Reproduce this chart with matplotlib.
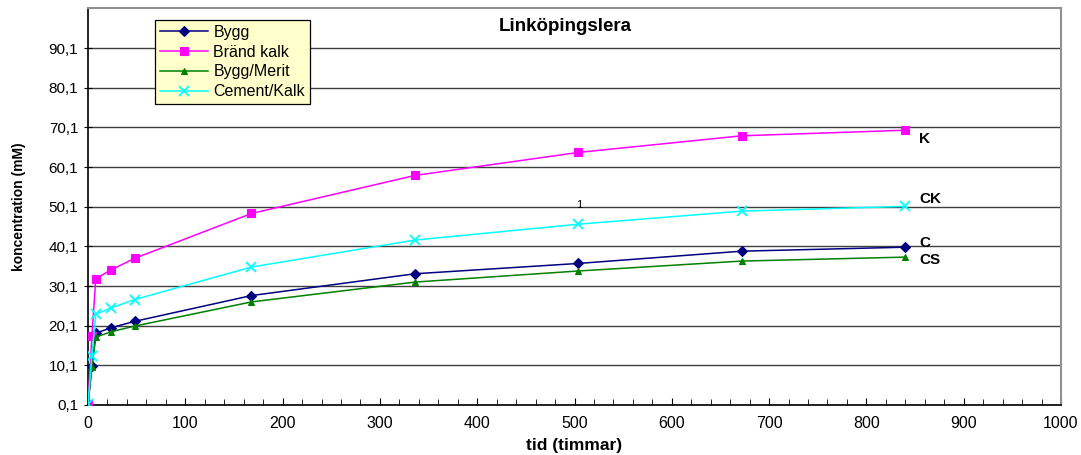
import numpy as np
import matplotlib.pyplot as plt
from matplotlib.ticker import MultipleLocator, FuncFormatter

plt.rcParams['font.family'] = ['Liberation Sans', 'DejaVu Sans']

# sampling times (hours)
tid = [0, 4, 8, 24, 48, 168, 336, 504, 672, 840]

bygg = [0.4, 10.0, 18.2, 19.6, 21.2, 27.7, 33.2, 35.8, 38.9, 39.9]
brand_kalk = [0.4, 17.4, 32.0, 34.2, 37.1, 48.4, 58.0, 63.8, 68.0, 69.4]
bygg_merit = [0.3, 9.6, 17.2, 18.6, 20.0, 26.1, 31.1, 33.9, 36.4, 37.4]
cement_kalk = [0.4, 12.5, 23.0, 24.6, 26.7, 34.9, 41.7, 45.7, 49.0, 50.2]

series = [
    ("Bygg", bygg, '#000080', 'D', 5),
    ("Bränd kalk", brand_kalk, '#FF00FF', 's', 6.3),
    ("Bygg/Merit", bygg_merit, '#008000', '^', 5),
    ("Cement/Kalk", cement_kalk, '#00FFFF', 'x', 7),
]

# short names written at the end of each curve
end_labels = [("K", 67.2), ("CK", 52.1), ("C", 40.9), ("CS", 36.6)]

fig = plt.figure(figsize=(10.81, 4.55), dpi=100)
ax = fig.add_axes([88 / 1081, 1 - 405 / 455, (1061 - 88) / 1081, (405 - 8.5) / 455])

for name, vals, col, mk, ms in series:
    ax.plot(tid, vals, color=col, marker=mk, markersize=ms, linewidth=1.1,
            markeredgewidth=1.3 if mk == 'x' else 0.8, label=name, zorder=3)

ax.set_xlim(0, 1000)
ax.set_ylim(0.1, 100.1)
ax.xaxis.set_major_locator(MultipleLocator(100))
ax.xaxis.set_minor_locator(MultipleLocator(20))
ax.set_yticks(np.arange(0.1, 91, 10))
ax.yaxis.set_major_formatter(FuncFormatter(lambda v, p: f"{v:.1f}".replace('.', ',')))
ax.yaxis.grid(True, color='#404040', linewidth=1.0, zorder=1)

ax.tick_params(axis='x', which='both', direction='in', labelsize=11.5, pad=8)
ax.tick_params(axis='x', which='major', length=5)
ax.tick_params(axis='x', which='minor', length=4)
ax.tick_params(axis='y', direction='inout', length=6, labelsize=11, pad=4)

for side in ['left', 'bottom']:
    ax.spines[side].set_color('black')
    ax.spines[side].set_linewidth(1.2)
for side in ['top', 'right']:
    ax.spines[side].set_color('#909090')
    ax.spines[side].set_linewidth(1.5)

ax.set_xlabel("tid (timmar)", fontsize=12.5, fontweight='bold', labelpad=5)
ax.set_ylabel("koncentration (mM)", fontsize=10, fontweight='bold', labelpad=16)

ax.text(0.49, 0.955, "Linköpingslera", transform=ax.transAxes, ha='center', va='center',
        fontsize=13.5, fontweight='bold')

for txt, yv in end_labels:
    ax.text(854, yv, txt, fontsize=11, fontweight='bold', va='center', ha='left')

ax.text(505, 50.5, "1", fontsize=8, ha='center', va='center')

leg = ax.legend(loc='upper left', bbox_to_anchor=((155 - 88) / 973, (405 - 20) / 396.5),
                frameon=True, fancybox=False, fontsize=11.5, handlelength=3.0,
                borderpad=0.3, labelspacing=0.3, handletextpad=0.35, borderaxespad=0)
leg.get_frame().set_facecolor('#FFFFCC')
leg.get_frame().set_edgecolor('black')
leg.get_frame().set_linewidth(0.9)
leg.get_frame().set_alpha(1)

fig.savefig("out.png", dpi=100)
